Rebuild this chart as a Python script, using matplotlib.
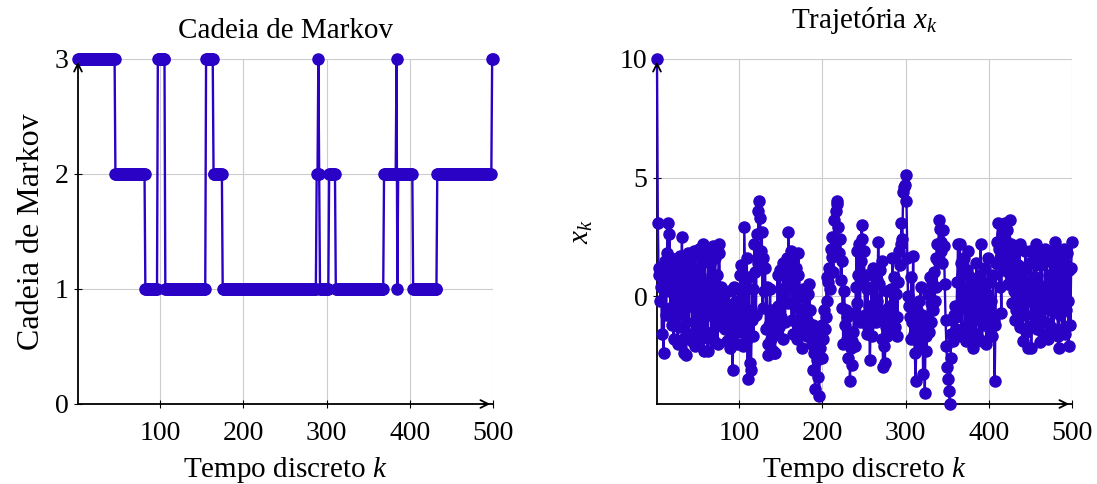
import numpy as np
import matplotlib.pyplot as plt

plt.rcParams['font.family'] = ['Liberation Serif', 'DejaVu Serif']
plt.rcParams['mathtext.fontset'] = 'custom'
plt.rcParams['mathtext.rm'] = 'Liberation Serif'
plt.rcParams['mathtext.it'] = 'Liberation Serif:italic'

# Markov chain: states and how long each one lasts (k = 1..500)
markov_states = [3, 2, 1, 3, 1, 3, 2, 1, 2, 3, 2, 1, 2, 1, 2, 3, 1, 2, 1, 2, 3]
markov_runs = [45, 36, 15, 9, 49, 9, 11, 113, 2, 1, 1, 11, 8, 58, 15, 1, 1, 18, 29, 66, 2]

# trajectory x_k, k = 1..500
x_traj = [
    10, 3.1, 0.9, 1.2, -0.2, 0.4, -1.6, 1.0, -2.4, 0.6, 1.5, -0.8, 1.8, 3.1, 0.2, 2.6, -0.5, 1.6, -1.2, 0.8,
    -1.8, 1.3, 0.3, -0.9, 1.1, -2.0, 0.7, -1.3, 1.7, -0.6, 2.5, -1.8, 0.9, -2.4, 1.4, -2.5, 0.5, 1.8, -1.6, 1.2,
    -0.4, 1.6, -1.9, 0.8, -1.1, 1.9, -2.1, 0.4, 1.2, -1.4, 2.0, -0.7, 0.9, -1.8, 1.5, 2.2, -2.3, 0.6, 1.7, -1.5,
    0.3, -2.3, 1.9, -0.8, 1.4, -1.6, 0.7, 2.1, -1.9, 0.2, 1.6, -1.2, 0.9, -2.0, 1.8, 2.2, -1.1, 0.4, -0.6, -1.3,
    -0.7, 0.1, -1.4, -0.3, -1.9, -0.9, 0.2, -1.2, -2.2, -0.4, -1.6, -3.1, -0.8, 0.4, -1.3, -0.2, -2.0, -0.9, 0.3, -1.5,
    0.9, 1.3, -1.1, 0.2, -2.1, 2.9, 0.5, -1.9, 1.6, -3.5, -0.6, 0.8, -2.8, -3.1, -1.0, 0.3, -1.7, 2.2, 1.0, -0.8,
    2.6, 1.4, 3.6, 4.0, 3.3, 1.9, 2.7, -0.5, 1.6, 0.2, 1.2, -1.4, 0.4, -2.0, -2.5, -1.2, 0.3, -1.8, -0.6, -2.3,
    -1.0, -2.4, -2.4, -0.8, -1.6, 0.9, -0.4, -1.3, 1.1, -0.9, 0.3, -1.8, 1.4, 0.1, -1.1, 0.8, 1.6, -0.3, 2.7, 1.3,
    0.4, 1.9, -1.0, 1.5, -1.6, 0.6, -0.4, 1.2, -1.8, 0.9, 1.8, -1.2, 0.2, -0.6, -2.2, -1.5, 0.3, -1.3, -0.1, -0.9,
    -1.7, 0.1, -1.1, 0.5, -0.6, -1.4, -2.0, -1.2, -3.1, -2.4, -3.9, -1.6, -2.7, -1.3, -3.4, -4.2, -2.2, -1.5, -1.2, -2.6,
    -1.8, -0.6, -1.4, -0.9, 0.8, -0.2, 0.6, 1.2, 0.3, 2.0, 1.65, 2.5, 1.0, 3.2, 2.1, 3.6, 4.0, 3.9, 2.9, 1.8,
    2.4, 0.7, 1.5, -0.5, -2.0, 0.2, -1.2, -0.6, -1.8, -0.9, -2.6, -1.5, -3.6, -2.2, -2.9, -1.9, -1.5, -0.7, -2.1, 0.4,
    1.9, -0.3, 0.9, 2.2, -1.1, 1.5, 3.0, 2.4, 0.6, 1.9, -0.8, 0.9, -1.6, 0.3, -1.3, -0.4, -2.7, -1.0, 0.4, -1.7,
    1.2, -0.6, 0.8, -1.1, 0.7, -0.2, 2.3, 0.5, 1.1, -0.9, 1.5, -1.8, -3.0, -2.1, -2.8, -1.3, 0.2, -1.7, -0.5, -1.2,
    -0.4, 0.3, -1.5, 1.6, -0.7, 0.8, -1.3, 0.1, -0.9, -1.7, 0.6, 1.9, 1.3, 2.2, 3.1, 2.4, 4.4, 4.6, 4.7, 5.1,
    4.0, 1.6, 0.0, -0.4, -0.9, -1.8, 0.8, -1.1, 1.7, -1.6, -2.4, -3.6, -1.3, -0.6, -1.9, -0.2, -1.4, 0.4, -2.0, -0.8,
    -3.3, -1.2, -4.1, -1.7, -2.3, -0.9, 0.1, -1.5, 0.8, -0.3, -1.1, 0.5, -0.6, 1.0, -0.2, 1.6, 0.4, 2.2, 1.5, 3.2,
    2.85, 1.9, 2.3, 1.4, 2.8, 2.1, 0.5, -1.0, -2.1, -3.0, -3.5, -4.0, -4.55, -2.6, -1.6, -1.0, -1.9, -0.8, -0.4, -1.4,
    -0.9, 0.6, 2.2, -0.5, 2.2, 1.4, -1.7, 0.9, -0.2, 1.6, -1.3, 0.4, -1.9, 1.1, 1.9, -0.7, 0.8, -1.5, 0.2, -1.1,
    -2.2, -0.4, 0.7, -1.6, 1.4, -0.9, 0.3, -1.8, 0.9, 2.2, -0.6, -1.9, 0.5, -1.2, 1.2, -0.3, -2.0, 0.1, 1.6, -0.8,
    0.6, -1.4, -0.2, -1.7, 0.9, -1.0, -3.6, -1.2, 1.4, 2.3, 3.1, 2.0, 0.4, 1.6, -0.7, 2.6, 1.1, 1.9, 3.1, 2.4,
    1.2, 2.8, 0.5, 1.7, 3.2, 0.9, 2.2, -0.3, 1.5, 0.2, -1.0, 1.8, -0.6, 0.8, 1.3, -0.4, 2.2, -1.3, 0.7, -0.5,
    -1.9, 1.1, -0.8, 1.9, -1.5, 0.6, -2.2, 1.4, -0.2, 1.9, -2.2, 0.3, -1.2, 1.6, -0.9, 0.8, 2.2, -1.4, 0.5, -0.7,
    -1.95, 1.3, -0.5, 1.8, -1.6, 0.4, -1.1, 2.0, -0.3, 1.5, -1.8, 0.9, -0.6, 1.7, -1.3, 0.2, 1.9, -1.5, 0.7, 2.3,
    -0.4, 1.2, -1.7, -2.2, 1.6, -0.8, 0.9, -1.4, 0.3, 2.0, -1.6, 1.4, -0.6, 1.8, -0.2, -2.1, 1.1, -1.2, 1.2, 2.3,
]

theta = np.repeat(markov_states, markov_runs)
k = np.arange(1, len(x_traj) + 1)

line_color = '#2a02c6'
fs_tick = 20
fs_text = 21


def style_axes(ax, xticks, yticks):
    ax.set_xticks(xticks)
    ax.set_yticks(yticks)
    ax.grid(True, color='#cccccc', lw=0.8)
    ax.set_axisbelow(True)
    for s in ['top', 'right']:
        ax.spines[s].set_visible(False)
    for s in ['left', 'bottom']:
        ax.spines[s].set_linewidth(1.3)
    ax.tick_params(direction='inout', length=6, width=0.8, labelsize=fs_tick)
    ax.tick_params(axis='x', pad=9)
    ax.tick_params(axis='y', pad=4)
    # arrow heads at the end of both axes
    ax.annotate('', xy=(1.0, 0), xytext=(0.97, 0), xycoords='axes fraction',
                arrowprops=dict(arrowstyle='->', lw=1.3, color='k', mutation_scale=14))
    ax.annotate('', xy=(0, 1.0), xytext=(0, 0.97), xycoords='axes fraction',
                arrowprops=dict(arrowstyle='->', lw=1.3, color='k', mutation_scale=14))


fig = plt.figure(figsize=(10.97, 4.84), dpi=100)

ax1 = fig.add_axes([0.0711, 0.1653, 0.3783, 0.7128])
ax1.plot(k, theta, '-o', color=line_color, lw=1.7, ms=8, clip_on=False, zorder=3)
ax1.set_xlim(1, 500)
ax1.set_ylim(0, 3)
style_axes(ax1, [100, 200, 300, 400, 500], [0, 1, 2, 3])
ax1.set_title('Cadeia de Markov', fontsize=fs_text, pad=15)
ax1.set_xlabel('Tempo discreto $k$', fontsize=fs_text, labelpad=7)
ax1.set_ylabel('Cadeia de Markov', fontsize=23, labelpad=6)

ax2 = fig.add_axes([0.5989, 0.1653, 0.3783, 0.7128])
ax2.plot(k, x_traj, '-o', color=line_color, lw=1.7, ms=8, clip_on=False, zorder=3)
ax2.set_xlim(1, 500)
ax2.set_ylim(min(x_traj), max(x_traj))
style_axes(ax2, [100, 200, 300, 400, 500], [0, 5, 10])
ax2.set_title('Trajetória $x_k$', fontsize=fs_text, pad=22)
ax2.set_xlabel('Tempo discreto $k$', fontsize=fs_text, labelpad=7)
ax2.set_ylabel('$x_k$', fontsize=fs_text, labelpad=18)

fig.savefig('out.png', dpi=100)
